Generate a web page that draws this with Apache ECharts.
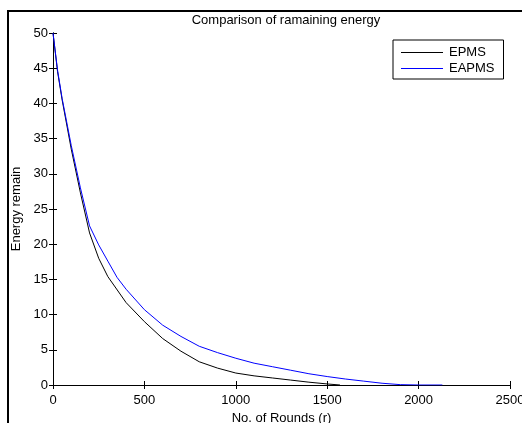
<!DOCTYPE html>
<html>
<head>
<meta charset="utf-8">
<script src="https://cdn.jsdelivr.net/npm/echarts@6/dist/echarts.min.js"></script>
<style>
  html, body { margin: 0; padding: 0; background: #fff; }
  #chart { width: 522px; height: 423px; }
</style>
</head>
<body>
<div id="chart"></div>
<script>
// values
const epmsRounds = [0, 25, 50, 100, 150, 200, 250, 300, 400, 500, 600, 700, 800, 900, 1000, 1100, 1200, 1300, 1400, 1500, 1570];
const epmsEnergy = [50, 44.5, 40.5, 33.5, 27.3, 21.6, 18.0, 15.4, 11.7, 9.0, 6.6, 4.8, 3.3, 2.4, 1.7, 1.3, 1.0, 0.7, 0.4, 0.15, 0];

const eapmsRounds = [0, 25, 50, 100, 150, 200, 250, 300, 350, 400, 500, 600, 700, 800, 900, 1000, 1100, 1200, 1300, 1400, 1500, 1600, 1700, 1800, 1900, 2000, 2130];
const eapmsEnergy = [50, 44.7, 40.7, 34, 28, 22.6, 19.9, 17.6, 15.3, 13.6, 10.7, 8.5, 6.9, 5.5, 4.6, 3.8, 3.1, 2.6, 2.1, 1.6, 1.2, 0.85, 0.55, 0.25, 0.05, 0, 0];

const xTicks = { min: 0, max: 2500, interval: 500 };
const yTicks = { min: 0, max: 50, interval: 5 };

const zip = (xs, ys) => xs.map((x, i) => [x, ys[i]]);

const font = "'Liberation Sans', Arial, sans-serif";
const tick = { show: true, inside: true, length: 4, lineStyle: { color: "#000" } };
const line = { show: true, lineStyle: { color: "#000", width: 1 } };
const lineIcon = "path://M0,0 L42,0 L42,1 L0,1 Z";

const chart = echarts.init(document.getElementById("chart"));
chart.setOption({
  animation: false,
  backgroundColor: "#fff",
  textStyle: { fontFamily: font },
  title: {
    text: "Comparison of ramaining energy",
    left: 281,
    textAlign: "center",
    top: 9,
    textStyle: { fontFamily: font, fontSize: 13, fontWeight: "normal", color: "#000" },
  },
  graphic: [
    {
      type: "rect",
      shape: { x: 8, y: 11, width: 540, height: 440 },
      style: { fill: null, stroke: "#000", lineWidth: 2 },
      silent: true,
      z: 100,
    },
  ],
  legend: {
    left: 393,
    top: 40,
    orient: "vertical",
    backgroundColor: "#fff",
    borderColor: "#000",
    borderWidth: 1,
    padding: [6, 9, 4, 8],
    itemWidth: 42,
    itemHeight: 1,
    itemGap: 3,
    textStyle: { fontFamily: font, fontSize: 13, color: "#000", padding: [0, 0, 0, 1] },
    data: [
      { name: "EPMS", icon: lineIcon, itemStyle: { color: "#000" } },
      { name: "EAPMS", icon: lineIcon, itemStyle: { color: "#0000ff" } },
    ],
  },
  grid: { left: 53, right: 12, top: 33, bottom: 38, outerBoundsMode: "none", containLabel: false },
  xAxis: [
    {
      type: "value",
      ...xTicks,
      name: "No. of Rounds (r)",
      nameLocation: "middle",
      nameGap: 21,
      nameTextStyle: { fontFamily: font, fontSize: 13, color: "#000" },
      axisLine: line,
      axisTick: tick,
      splitLine: { show: false },
      axisLabel: { color: "#000", fontSize: 13, fontFamily: font, margin: 9, formatter: (v) => String(v) },
    },
    {
      type: "value",
      position: "top",
      ...xTicks,
      axisLine: line,
      axisTick: tick,
      splitLine: { show: false },
      axisLabel: { show: false },
    },
  ],
  yAxis: [
    {
      type: "value",
      ...yTicks,
      name: "Energy remain",
      nameLocation: "middle",
      nameGap: 28,
      nameTextStyle: { fontFamily: font, fontSize: 13, color: "#000" },
      axisLine: line,
      axisTick: tick,
      splitLine: { show: false },
      axisLabel: { color: "#000", fontSize: 13, fontFamily: font, margin: 5 },
    },
    {
      type: "value",
      position: "right",
      ...yTicks,
      axisLine: line,
      axisTick: tick,
      splitLine: { show: false },
      axisLabel: { show: false },
    },
  ],
  series: [
    {
      name: "EPMS",
      type: "line",
      data: zip(epmsRounds, epmsEnergy),
      showSymbol: false,
      symbol: "none",
      lineStyle: { color: "#000", width: 1 },
      itemStyle: { color: "#000" },
    },
    {
      name: "EAPMS",
      type: "line",
      data: zip(eapmsRounds, eapmsEnergy),
      showSymbol: false,
      symbol: "none",
      lineStyle: { color: "#0000ff", width: 1 },
      itemStyle: { color: "#0000ff" },
    },
  ],
});
</script>
</body>
</html>
